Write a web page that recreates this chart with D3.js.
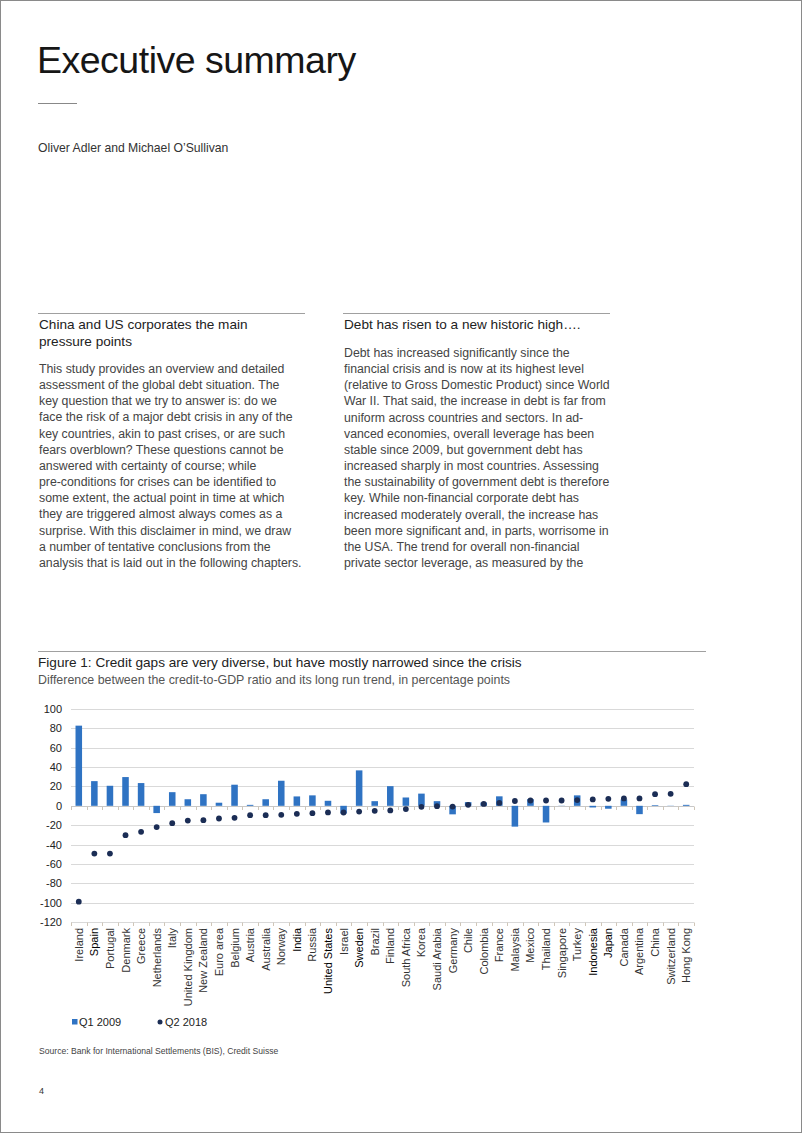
<!DOCTYPE html>
<html><head><meta charset="utf-8">
<script src="https://cdn.jsdelivr.net/npm/d3@7/dist/d3.min.js"></script>
<style>
html,body{margin:0;padding:0;background:#fff;}
svg{display:block;font-family:"Liberation Sans",Arial,Helvetica,sans-serif;}
</style></head>
<body>
<svg id="page" width="802" height="1133"></svg>
<script>
const categories = ["Ireland","Spain","Portugal","Denmark","Greece","Netherlands","Italy","United Kingdom","New Zealand","Euro area","Belgium","Austria","Australia","Norway","India","Russia","United States","Israel","Sweden","Brazil","Finland","South Africa","Korea","Saudi Arabia","Germany","Chile","Colombia","France","Malaysia","Mexico","Thailand","Singapore","Turkey","Indonesia","Japan","Canada","Argentina","China","Switzerland","Hong Kong"];
const q1_2009 = [82.8,25.5,20.7,29.7,23.5,-7.5,14.1,6.8,12,3.2,21.8,1,6.8,25.9,9.7,10.8,5.2,-8,36.6,4.8,20.3,8.6,12.6,4.8,-8.8,3.8,3.4,9.8,-21.5,6.9,-17.2,0.2,10.8,-1.7,-3,6.6,-8.6,0.7,0.2,1];
const q2_2018 = [-99,-49.3,-49.3,-30.3,-26.9,-22,-17.9,-15.2,-14.8,-13.1,-12.4,-9.7,-9.7,-9.3,-8.3,-7.6,-6.8,-6.9,-5.9,-5.2,-4.8,-3.4,-1,-0.4,-0.8,1,2,3,5,5.5,5.5,5.5,5.9,6.6,7.2,7.6,7.6,12,12.4,22.4];
const yTicks = [100,80,60,40,20,0,-20,-40,-60,-80,-100,-120];
const seriesNames = ["Q1 2009","Q2 2018"];
const boldLabels = ["Spain","India","United States","Sweden","Indonesia","Japan"];

const svg = d3.select("#page");
svg.append("rect").attr("x",0.5).attr("y",0.5).attr("width",801).attr("height",1132)
  .attr("fill","none").attr("stroke","#8a8a8a").attr("stroke-width",1);

svg.append("text").attr("x",37).attr("y",73).attr("font-size",37.5).attr("fill","#161616")
  .attr("letter-spacing","-0.5").text("Executive summary");
svg.append("line").attr("x1",38).attr("x2",77).attr("y1",103.5).attr("y2",103.5).attr("stroke","#888").attr("stroke-width",1);
svg.append("text").attr("x",38).attr("y",152).attr("font-size",12.2).attr("fill","#333").text("Oliver Adler and Michael O’Sullivan");

function column(x, w, head, body, bodyStart){
  svg.append("line").attr("x1",x).attr("x2",x+w).attr("y1",313.5).attr("y2",313.5).attr("stroke","#a0a0a0").attr("stroke-width",1);
  head.forEach((t,i)=>svg.append("text").attr("x",x+1).attr("y",329+i*17).attr("font-size",13.6).attr("fill","#222").text(t));
  body.forEach((t,i)=>svg.append("text").attr("x",x+1).attr("y",bodyStart+i*16.15).attr("font-size",12.3).attr("fill","#444").text(t));
}
column(38,267,["China and US corporates the main","pressure points"],[
"This study provides an overview and detailed",
"assessment of the global debt situation. The",
"key question that we try to answer is: do we",
"face the risk of a major debt crisis in any of the",
"key countries, akin to past crises, or are such",
"fears overblown? These questions cannot be",
"answered with certainty of course; while",
"pre-conditions for crises can be identified to",
"some extent, the actual point in time at which",
"they are triggered almost always comes as a",
"surprise. With this disclaimer in mind, we draw",
"a number of tentative conclusions from the",
"analysis that is laid out in the following chapters."],373);
column(343,267,["Debt has risen to a new historic high…."],[
"Debt has increased significantly since the",
"financial crisis and is now at its highest level",
"(relative to Gross Domestic Product) since World",
"War II. That said, the increase in debt is far from",
"uniform across countries and sectors. In ad-",
"vanced economies, overall leverage has been",
"stable since 2009, but government debt has",
"increased sharply in most countries. Assessing",
"the sustainability of government debt is therefore",
"key. While non-financial corporate debt has",
"increased moderately overall, the increase has",
"been more significant and, in parts, worrisome in",
"the USA. The trend for overall non-financial",
"private sector leverage, as measured by the"],357);

svg.append("line").attr("x1",38).attr("x2",706).attr("y1",651.5).attr("y2",651.5).attr("stroke","#a0a0a0").attr("stroke-width",1);
svg.append("text").attr("x",38).attr("y",667).attr("font-size",13.6).attr("fill","#222")
  .text("Figure 1: Credit gaps are very diverse, but have mostly narrowed since the crisis");
svg.append("text").attr("x",38).attr("y",684).attr("font-size",12.4).attr("fill","#555")
  .text("Difference between the credit-to-GDP ratio and its long run trend, in percentage points");

const x = d3.scaleBand().domain(categories).range([71,694]).padding(0);
const y = d3.scaleLinear().domain([-120,100]).range([922,709]);
const g = svg.append("g");

g.selectAll("line.grid").data(yTicks).join("line").attr("class","grid")
  .attr("x1",71).attr("x2",694).attr("y1",d=>Math.round(y(d))+0.5).attr("y2",d=>Math.round(y(d))+0.5)
  .attr("stroke",d=>d===0?"#c8c8c8":"#d9d9d9").attr("stroke-width",1);

const yAxis = d3.axisLeft(y).tickValues(yTicks).tickSize(0).tickPadding(0).tickFormat(d=>String(d));
g.append("g").attr("transform","translate(62,0)").call(yAxis)
  .call(a=>a.select(".domain").remove())
  .call(a=>a.selectAll("text").attr("font-size",11).attr("fill","#222")
     .attr("font-family","'Liberation Sans',Arial,sans-serif"));

const bounds = categories.map(c=>x(c)).concat([694]);
[0,-120].forEach(v=>{
  g.selectAll(null).data(bounds).join("line")
    .attr("x1",d=>Math.round(d)+0.5).attr("x2",d=>Math.round(d)+0.5)
    .attr("y1",Math.round(y(v))+0.5).attr("y2",Math.round(y(v))+4)
    .attr("stroke","#cfc6b8").attr("stroke-width",1);
});

const bw = x.bandwidth()*0.42;
g.selectAll("rect.bar").data(categories).join("rect").attr("class","bar")
  .attr("x",(d)=>x(d)+x.bandwidth()/2-bw/2).attr("width",bw)
  .attr("y",(d,i)=>y(Math.max(0,q1_2009[i])))
  .attr("height",(d,i)=>Math.abs(y(q1_2009[i])-y(0)))
  .attr("fill","#2f73c3");

g.selectAll("circle.dot").data(categories).join("circle").attr("class","dot")
  .attr("cx",d=>x(d)+x.bandwidth()/2).attr("cy",(d,i)=>y(q2_2018[i])).attr("r",2.9)
  .attr("fill","#1b2d55");

const xAxis = d3.axisBottom(x).tickSize(0).tickPadding(0);
g.append("g").attr("transform","translate(0,922)").call(xAxis)
  .call(a=>a.select(".domain").remove())
  .call(a=>a.selectAll("text")
     .attr("font-size",11).attr("fill",d=>boldLabels.includes(d)?"#000":"#333")
     .attr("font-family",d=>boldLabels.includes(d)?"'Liberation Sans Narrow','Liberation Sans',Arial,sans-serif":"'Liberation Sans',Arial,sans-serif")
     .attr("text-anchor","end").attr("dy",null)
     .attr("transform","translate(4,6) rotate(-90)"));

svg.append("rect").attr("x",72).attr("y",1019).attr("width",5.5).attr("height",5.5).attr("fill","#2f73c3");
svg.append("text").attr("x",79).attr("y",1026).attr("font-size",11).attr("fill","#222").text(seriesNames[0]);
svg.append("circle").attr("cx",160).attr("cy",1022).attr("r",2.5).attr("fill","#1b2d55");
svg.append("text").attr("x",165).attr("y",1026).attr("font-size",11).attr("fill","#222").text(seriesNames[1]);

svg.append("text").attr("x",39).attr("y",1054).attr("font-size",8.6).attr("fill","#444")
  .text("Source: Bank for International Settlements (BIS), Credit Suisse");
svg.append("text").attr("x",39).attr("y",1094).attr("font-size",9).attr("fill","#333").text("4");
</script>
</body></html>
